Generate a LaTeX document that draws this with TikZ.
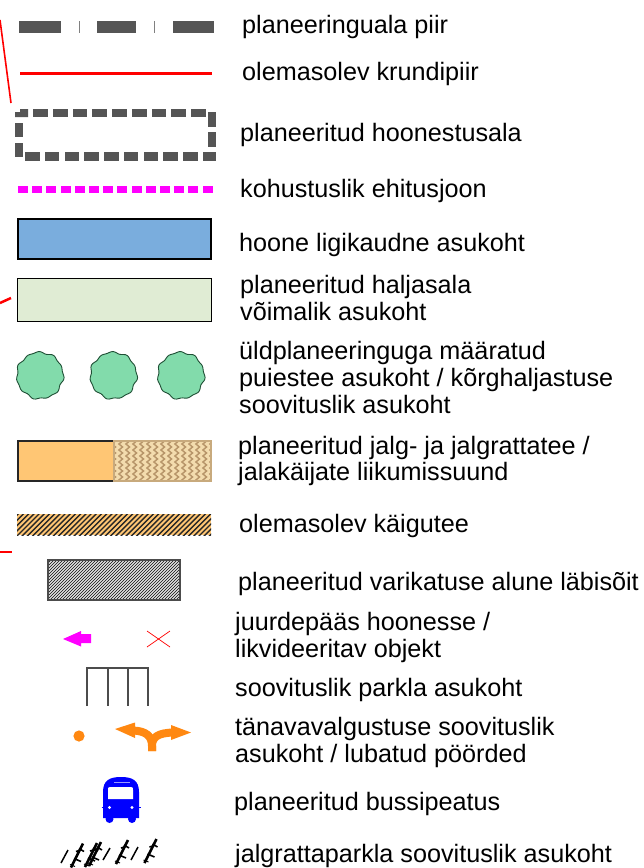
\documentclass[tikz,border=0pt]{standalone}
\usepackage{fontspec}
\setmainfont{Liberation Sans}
\definecolor{dgray}{HTML}{555555}
\definecolor{lorange}{HTML}{FFC674}
\definecolor{treegreen}{HTML}{82DBAB}
\definecolor{treeedge}{HTML}{1F4F35}
\definecolor{orng}{HTML}{FF8811}
\definecolor{bldblue}{HTML}{7AADDD}
\definecolor{lawn}{HTML}{E0ECD4}
\definecolor{sand}{HTML}{F3DCAE}
\definecolor{sandline}{HTML}{B8966A}
\definecolor{sandedge}{HTML}{C8AA7D}
\definecolor{pureblue}{HTML}{0000FF}
\definecolor{puremag}{HTML}{FF00FF}
\definecolor{purered}{HTML}{FF0000}
\tikzset{
  lab/.style={anchor=base west,inner sep=0pt,font=\fontsize{25.2}{25.2}\selectfont},
  tiny red/.style={draw=purered,line width=2.5pt},
  pics/treeblob/.style={code={
    \draw[fill=treegreen,draw=treeedge,line width=0.9pt] plot[smooth cycle,samples=72,domain=0:355,variable=\t] ({\t}:{23.2+0.7*sin(11*\t)+0.5*cos(7*\t)});
  }},
  pics/bike/.style={code={
    \draw[black,line width=2.6pt] (-6,12)--(6,-12);
    \draw[black,line width=1.6pt] (-3,3)--(4,6) (-1,-4)--(5,-6) (2,-7)--(7,-4);
    \draw[black,line width=1pt] (-7,9)--(-2,11);
  }},
  stick/.style={draw=black,line width=1.5pt},
}
\begin{document}
\begin{tikzpicture}[x=1pt,y=-1pt]
\useasboundingbox[fill=white] (0,0) rectangle (644,868);
% stray red fragments
\draw[tiny red,line width=1.6pt] (0,20) -- (11,103);
\draw[tiny red] (0,303) -- (11,298);
\draw[tiny red] (0,552) -- (12,552);
% boundary line
\foreach \a/\b in {19/61,97/136,173/214} \fill[dgray] (\a,21) rectangle (\b,33);
\foreach \a in {79,154} \draw[gray,line width=0.9pt] (\a,21) -- (\a,33);
% red line
\draw[purered,line width=3pt] (20,73) -- (212,73);
% building zone
\foreach \i in {0,...,8} \fill[dgray] ({33.3+19.7*\i},109) rectangle ({48+19.7*\i},117);
\fill[dgray] (15,112) -- (20,112) -- (20,109) -- (28,109) -- (28,117) -- (15,117) -- cycle;
\foreach \i in {0,...,8} \fill[dgray] ({25+19.75*\i},152) rectangle ({39.5+19.75*\i},161);
\fill[dgray] (203,152) -- (216,152) -- (216,161) -- (203,161) -- cycle;
\foreach \y in {123,143} \fill[dgray] (15,\y) rectangle (23,{\y+14});
\foreach \y in {112,132} \fill[dgray] (207.5,\y) rectangle (216,{\y+14.5});
% building line
\foreach \i in {0,...,13} \fill[puremag] ({18+14.2*\i},186) rectangle ({28+14.2*\i},193);
% building
\draw[fill=bldblue,line width=2pt] (18,219) rectangle (211,259);
% green area
\draw[fill=lawn,line width=1pt] (17.5,278) rectangle (211,321);
% trees
\path (40,375.5) pic {treeblob} (113.5,375.5) pic {treeblob} (181,375.5) pic {treeblob};
% path
\fill[lorange] (18,441) rectangle (114,481);
\draw[black!85,line width=1.1pt] (114,441) -- (18,441) -- (18,481) -- (114,481);
\begin{scope}
\clip (114,440) rectangle (211,481);
\fill[sand] (114,440) rectangle (211,481);
\foreach \c in {0,...,14}
  \draw[sandline,line width=1.5pt]
    ({112+7*\c},438) \foreach \k in {0,...,8} { -- ++(3.5,3) -- ++(-3.5,3) };
\end{scope}
\draw[sandedge,line width=1.2pt] (114,441) rectangle (211,481);
% walkway
\fill[lorange] (17,514) rectangle (211,535);
\begin{scope}
\clip (17,514) rectangle (211,535);
\foreach \i in {0,...,43}
  \draw[black!85,line width=1.4pt] ({-10+5.2*\i},537) -- ++(26,-26);
\end{scope}
% canopy
\begin{scope}
\clip (48,560) rectangle (180,600);
\foreach \i in {0,...,60}
  \draw[black!80,line width=0.85pt] ({5+3*\i},603) -- ++(46,-46);
\end{scope}
\draw[black!70,line width=1.2pt] (48,560) rectangle (180,600);
% entry arrow
\fill[puremag] (63,639) -- (81,631) -- (81,634) -- (91,634) -- (91,643) -- (81,643) -- (81,646.5) -- cycle;
% removed object
\draw[purered,line width=0.7pt] (147,631) -- (170,647) (147,647) -- (170,631);
% parking
\draw[black!70,line width=1.1pt] (87,706) -- (87,668) -- (148,668) -- (148,706) (108,668) -- (108,706) (128,668) -- (128,706);
% street lamp
\fill[orng] (79,736) circle (5.6);
% allowed turns
\draw[orng,line width=8pt] (152,751) -- (152,746) .. controls (152,736) and (146,731) .. (133,730.5);
\draw[orng,line width=8pt] (152,751) -- (152,746) .. controls (152,737) and (158,733) .. (173,732.5);
\fill[orng] (115,729) -- (135,722.5) -- (135,738) -- cycle;
\fill[orng] (191,732.5) -- (171,725) -- (171,740) -- cycle;
% bus
\fill[pureblue] (103,792) .. controls (103,780) and (110,777) .. (121,777) .. controls (132,777) and (139,780) .. (139,792) -- (139,818) -- (103,818) -- cycle;
\fill[pureblue] (109.5,819) circle (4) (132,819) circle (4);
\draw[pureblue,line width=1pt] (101.5,807) -- (140.5,807);
\fill[white] (110,787) -- (131,787) .. controls (133,787) and (133,788) .. (133,790) -- (133,799) -- (108,799) -- (108,790) .. controls (108,788) and (108,787) .. (110,787) -- cycle;
\fill[white] (109.5,807.5) circle (1.6) (132,807.5) circle (1.6);
\draw[white!60!pureblue,line width=0.8pt] (114,782.5) -- (130,782.5);
% bicycles
\coordinate (s1a) at (61,863); \coordinate (s1b) at (68,850);
\coordinate (s2a) at (103,860); \coordinate (s2b) at (110,848);
\coordinate (s3a) at (131,860); \coordinate (s3b) at (138,847);
\draw[stick] (s1a) -- (s1b) (s2a) -- (s2b) (s3a) -- (s3b);
\path (77,855.5) pic {bike} (91,855) pic {bike} (95,854) pic {bike} (122,852) pic {bike} (150.5,851) pic {bike};
% labels
\node[lab] (t1) at (242,33) {planeeringuala piir};
\node[lab] (t2) at (242,80) {olemasolev krundipiir};
\node[lab] (t3) at (240,141) {planeeritud hoonestusala};
\node[lab] (t4) at (240,197) {kohustuslik ehitusjoon};
\node[lab] (t5) at (239,251) {hoone ligikaudne asukoht};
\node[lab] (t6) at (240,293) {planeeritud haljasala};
\node[lab] (t7) at (240,320) {võimalik asukoht};
\node[lab] (t8) at (239,359) {üldplaneeringuga määratud};
\node[lab] (t9) at (239,386) {puiestee asukoht / kõrghaljastuse};
\node[lab] (t10) at (239,413) {soovituslik asukoht};
\node[lab] (t11) at (238,454) {planeeritud jalg- ja jalgrattatee /};
\node[lab] (t12) at (238,480) {jalakäijate liikumissuund};
\node[lab] (t13) at (239,532) {olemasolev käigutee};
\node[lab] (t14) at (238,590) {planeeritud varikatuse alune läbisõit};
\node[lab] (t15) at (235,630) {juurdepääs hoonesse /};
\node[lab] (t16) at (235,657) {likvideeritav objekt};
\node[lab] (t17) at (235,696) {soovituslik parkla asukoht};
\node[lab] (t18) at (235,735) {tänavavalgustuse soovituslik};
\node[lab] (t19) at (235,762) {asukoht / lubatud pöörded};
\node[lab] (t20) at (234,810) {planeeritud bussipeatus};
\node[lab] (t21) at (235,862) {jalgrattaparkla soovituslik asukoht};
\end{tikzpicture}
\end{document}
